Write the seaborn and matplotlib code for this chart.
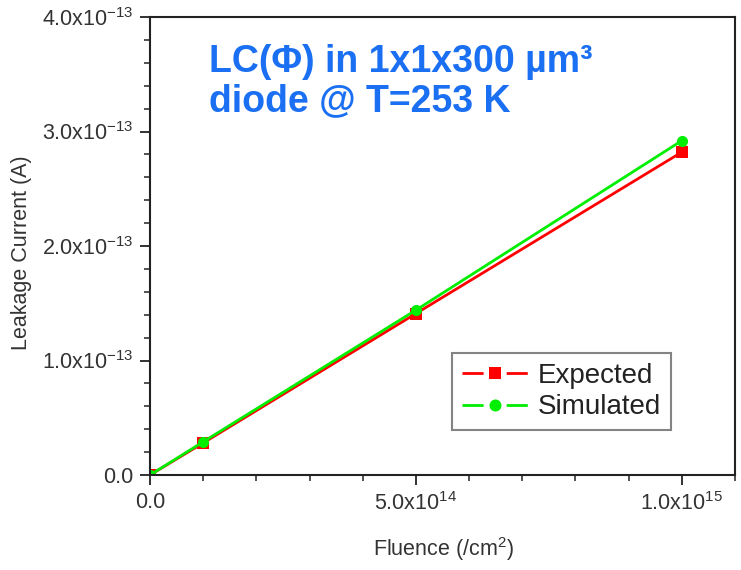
import matplotlib
matplotlib.use("Agg")
import matplotlib.pyplot as plt
import seaborn as sns
import pandas as pd
from matplotlib.ticker import FixedLocator, MultipleLocator

fluence = [0.0, 1e14, 5e14, 1e15]
expected = [0.0, 2.8e-14, 1.41e-13, 2.82e-13]
simulated = [0.0, 2.9e-14, 1.44e-13, 2.92e-13]
series_names = ["Expected", "Simulated"]
x_ticks = [0.0, 5e14, 1e15]
x_tick_labels = ["0.0", r"5.0x10$^{14}$", r"1.0x10$^{15}$"]
y_ticks = [0.0, 1e-13, 2e-13, 3e-13, 4e-13]
y_tick_labels = ["0.0", r"1.0x10$^{-13}$", r"2.0x10$^{-13}$", r"3.0x10$^{-13}$", r"4.0x10$^{-13}$"]

df = pd.DataFrame({
    "Fluence": fluence * 2,
    "LC": expected + simulated,
    "Series": [series_names[0]] * len(fluence) + [series_names[1]] * len(fluence),
})

sns.set_style("white")
plt.rcParams["font.family"] = ["Liberation Sans", "DejaVu Sans"]
plt.rcParams["mathtext.default"] = "regular"

W, H = 741, 570
fig = plt.figure(figsize=(W / 100, H / 100), dpi=100)
ax = fig.add_axes([150 / W, 95 / H, 585 / W, 458 / H])

sns.lineplot(data=df, x="Fluence", y="LC", hue="Series", style="Series",
             palette={"Expected": "#ff0000", "Simulated": "#00ee00"},
             markers={"Expected": "s", "Simulated": "o"}, dashes=False,
             markersize=8, markeredgewidth=0, linewidth=2, ax=ax)

ax.set_xlim(0, 1.1e15)
ax.set_ylim(0, 4e-13)
ax.xaxis.set_major_locator(FixedLocator(x_ticks))
ax.set_xticklabels(x_tick_labels)
ax.yaxis.set_major_locator(FixedLocator(y_ticks))
ax.set_yticklabels(y_tick_labels)
ax.xaxis.set_minor_locator(MultipleLocator(1e14))
ax.yaxis.set_minor_locator(MultipleLocator(2e-14))
ax.tick_params(which="major", direction="out", length=7, width=1.3, color="#222222",
               labelsize=15.5, labelcolor="#333333", bottom=True, left=True)
ax.tick_params(which="minor", direction="out", length=4, width=1.1, color="#222222",
               bottom=True, left=True)
ax.tick_params(axis="x", which="major", pad=5.5)
ax.tick_params(axis="y", which="major", pad=5)
for s in ax.spines.values():
    s.set_color("#222222")
    s.set_linewidth(1.5)

ax.set_xlabel("Fluence (/cm$^{2}$)", fontsize=15.5, color="#333333")
ax.xaxis.set_label_coords((444 - 150) / 585, (570 - 549 - 95) / 458)
ax.xaxis.label.set_va("center")
ax.set_ylabel("Leakage Current (A)", fontsize=15.5, color="#333333")
ax.yaxis.set_label_coords((22 - 150) / 585, (570 - 253 - 95) / 458)
ax.yaxis.label.set_va("center")

leg = ax.legend(loc="upper left", bbox_to_anchor=(452 / W, 1 - 353 / H),
                bbox_transform=fig.transFigure, fontsize=20,
                frameon=True, fancybox=False, shadow=False, handlelength=2.4,
                borderpad=0.35, borderaxespad=0, labelspacing=0.2, handletextpad=0.35,
                markerscale=1.08)
leg.get_frame().set_edgecolor("#666666")
leg.get_frame().set_linewidth(1.5)
for t in leg.get_texts():
    t.set_color("#222222")
for ln in leg.get_lines():
    ln.set_dashes((7.6, 8.3))

title_color = "#1a6ff2"
fig.text(209 / W, 1 - 72 / H, "LC(Φ) in 1x1x300 µm³", fontsize=27, fontweight="bold",
         color=title_color, ha="left", va="baseline")
fig.text(209 / W, 1 - 111 / H, "diode @ T=253 K", fontsize=27, fontweight="bold",
         color=title_color, ha="left", va="baseline")

fig.savefig("out.png", dpi=100)
